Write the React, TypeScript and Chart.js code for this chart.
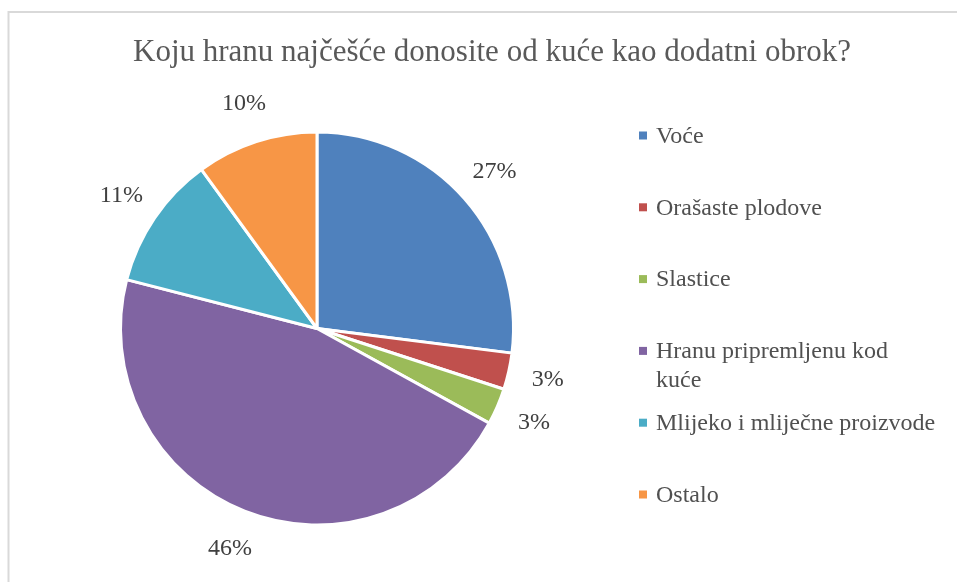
import React, { useEffect, useRef } from "react";
import { Chart, registerables } from "chart.js";

Chart.register(...registerables);

const TITLE = "Koju hranu najčešće donosite od kuće kao dodatni obrok?";
const categories = [
  "Voće",
  "Orašaste plodove",
  "Slastice",
  "Hranu pripremljenu kod\nkuće",
  "Mlijeko i mliječne proizvode",
  "Ostalo",
];
const values = [27, 3, 3, 46, 11, 10];
const colors = ["#4F81BD", "#C0504D", "#9BBB59", "#8064A2", "#4BACC6", "#F79646"];

const FONT = "'Liberation Serif', 'DejaVu Serif', serif";

const decor = {
  id: "decor",
  beforeDraw(chart: any) {
    const ctx = chart.ctx;
    ctx.save();
    ctx.fillStyle = "#ffffff";
    ctx.fillRect(0, 0, chart.width, chart.height);
    ctx.strokeStyle = "#D9D9D9";
    ctx.lineWidth = 2;
    ctx.strokeRect(8.5, 12, chart.width + 20, chart.height + 20);
    ctx.fillStyle = "#595959";
    ctx.font = `31px ${FONT}`;
    ctx.textAlign = "center";
    ctx.textBaseline = "alphabetic";
    ctx.fillText(TITLE, 492, 61);
    ctx.restore();
  },
  afterDraw(chart: any) {
    const ctx = chart.ctx;
    const meta = chart.getDatasetMeta(0);
    const ds = chart.data.datasets[0].data as number[];
    const total = ds.reduce((a, b) => a + b, 0);
    ctx.save();
    ctx.fillStyle = "#404040";
    ctx.font = `24px ${FONT}`;
    ctx.textAlign = "center";
    ctx.textBaseline = "middle";
    meta.data.forEach((arc: any, i: number) => {
      const { x, y, startAngle, endAngle, outerRadius } = arc.getProps(
        ["x", "y", "startAngle", "endAngle", "outerRadius"],
        true
      );
      const mid = (startAngle + endAngle) / 2;
      const r = outerRadius + 40;
      const pct = Math.round((ds[i] / total) * 100) + "%";
      ctx.fillText(pct, x + Math.cos(mid) * r, y + Math.sin(mid) * r);
    });
    const labels = chart.data.labels as string[];
    ctx.font = `24px ${FONT}`;
    ctx.textAlign = "left";
    labels.forEach((lab, i) => {
      const cy = 135.5 + i * 71.8;
      ctx.fillStyle = colors[i];
      ctx.fillRect(639, cy - 4, 8, 8);
      ctx.fillStyle = "#505050";
      lab.split("\n").forEach((line, j) => {
        ctx.fillText(line, 656, cy + 1 + j * 29);
      });
    });
    ctx.restore();
  },
};

export default function App() {
  const ref = useRef<HTMLCanvasElement>(null);
  useEffect(() => {
    if (!ref.current) return;
    const chart = new Chart(ref.current, {
      type: "pie",
      data: {
        labels: categories,
        datasets: [
          {
            data: values,
            backgroundColor: colors,
            borderColor: "#ffffff",
            borderWidth: 3,
          },
        ],
      },
      options: {
        animation: false,
        responsive: false,
        layout: { padding: { left: 119, top: 130, right: 442, bottom: 55 } },
        plugins: {
          legend: { display: false },
          tooltip: { enabled: false },
          title: { display: false },
        },
      },
      plugins: [decor],
    });
    return () => chart.destroy();
  }, []);
  return (
    <div style={{ position: "fixed", left: 0, top: 0, width: 957, height: 582 }}>
      <canvas ref={ref} width={957} height={582} style={{ display: "block" }} />
    </div>
  );
}
